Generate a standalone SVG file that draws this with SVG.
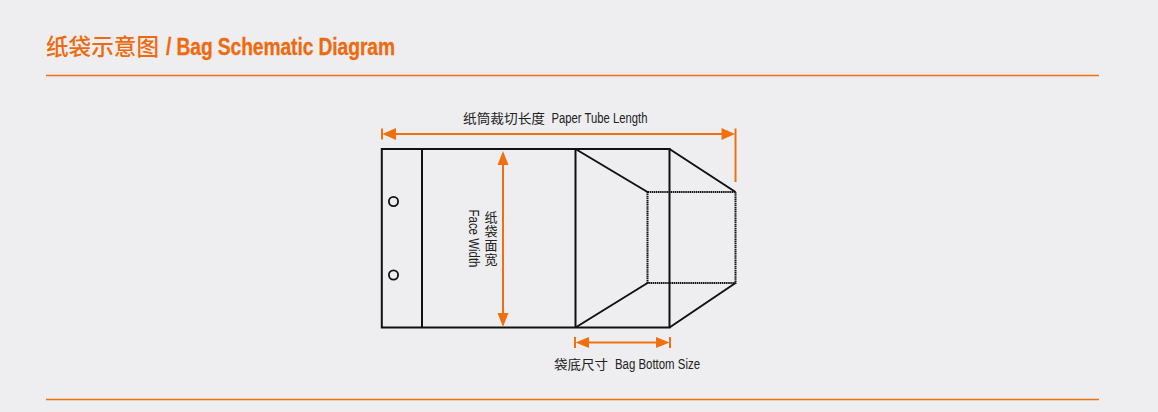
<svg xmlns="http://www.w3.org/2000/svg" width="1158" height="412" viewBox="0 0 1158 412">
<defs>
<style>
.o{stroke:#F0700F;fill:none}
.oa{fill:#F0700F;stroke:none}
.k{stroke:#111;stroke-width:2;fill:none}
.d{stroke:#111;stroke-width:2;stroke-dasharray:1.5 .6;fill:none}
.t{font-family:"Liberation Sans",sans-serif;font-size:14px;fill:#222}
.c{font-family:"Noto Sans CJK SC",sans-serif;font-size:13px;fill:#222}
.h{font-family:"Liberation Sans",sans-serif;font-weight:700;font-size:23.500px;fill:#EE6A0E;stroke:#EE6A0E;stroke-width:.3px}
.hc{font-family:"Noto Sans CJK SC",sans-serif;font-weight:500;font-size:22.500px;fill:#EE6A0E}
</style>
</defs>
<rect width="1158" height="412" fill="#EEEEF0"/>
<g id="header">
<text class="hc" x="46" y="55" textLength="113" lengthAdjust="spacingAndGlyphs">纸袋示意图</text>
<text class="h" transform="translate(166 55) scale(.82 1)" textLength="279.300" lengthAdjust="spacing">/ Bag Schematic Diagram</text>
<line x1="46" y1="75.500" x2="1099" y2="75.500" class="o" stroke-width="1.500"/>
</g>
<line id="footer-rule" x1="46" y1="399.500" x2="1099" y2="399.500" class="o" stroke-width="1.500"/>
<g id="bag">
<path class="k" d="M575.500 149H381.800V327.500H575.500M422 149V327.500M575.500 149V327.500M575.500 149H669.500V327.500H575.500"/>
<path class="k" d="M575.500 149L647.500 192M669.500 149L735.500 192M575.500 327.500L647.500 283M669.500 327.500L735.500 283"/>
<path class="d" d="M647.500 192H735.500V283H647.500Z"/>
<circle cx="393.500" cy="201.500" r="4.600" fill="none" stroke="#111" stroke-width="1.800"/>
<circle cx="393.500" cy="275" r="4.600" fill="none" stroke="#111" stroke-width="1.800"/>
</g>
<g id="connectors">
<g id="dim-length">
<path class="o" stroke-width="2" d="M382 128.500V139.500M392 134H727M735.500 128.500V182"/>
<path class="oa" d="M382.500 134L396 128V140ZM735 134L721.500 128V140Z"/>
</g>
<g id="dim-width">
<path class="o" stroke-width="2" d="M503 160V317"/>
<path class="oa" d="M503 151L508.500 165H497.500ZM503 327L508.500 313H497.500Z"/>
</g>
<g id="dim-bottom">
<path class="o" stroke-width="2" d="M575 337V348M585 342.500H660M670 337V348"/>
<path class="oa" d="M575.500 342.500L589 337V348ZM669.500 342.500L656 337V348Z"/>
</g>
</g>
<g id="label-length">
<text class="c" x="463" y="122.500" textLength="82" lengthAdjust="spacingAndGlyphs">纸筒裁切长度</text>
<text class="t" x="551.500" y="122.500" textLength="96" lengthAdjust="spacingAndGlyphs">Paper Tube Length</text>
</g>
<g id="label-width">
<text class="c" x="484.500 484.500 484.500 484.500" y="222 236 250 264">纸袋面宽</text>
<text class="t" transform="translate(468.500 209.500) rotate(90)" textLength="58" lengthAdjust="spacingAndGlyphs">Face Width</text>
</g>
<g id="label-bottom">
<text class="c" x="554" y="368.500" textLength="54" lengthAdjust="spacingAndGlyphs">袋底尺寸</text>
<text class="t" x="615" y="368.500" textLength="85" lengthAdjust="spacingAndGlyphs">Bag Bottom Size</text>
</g>
</svg>
